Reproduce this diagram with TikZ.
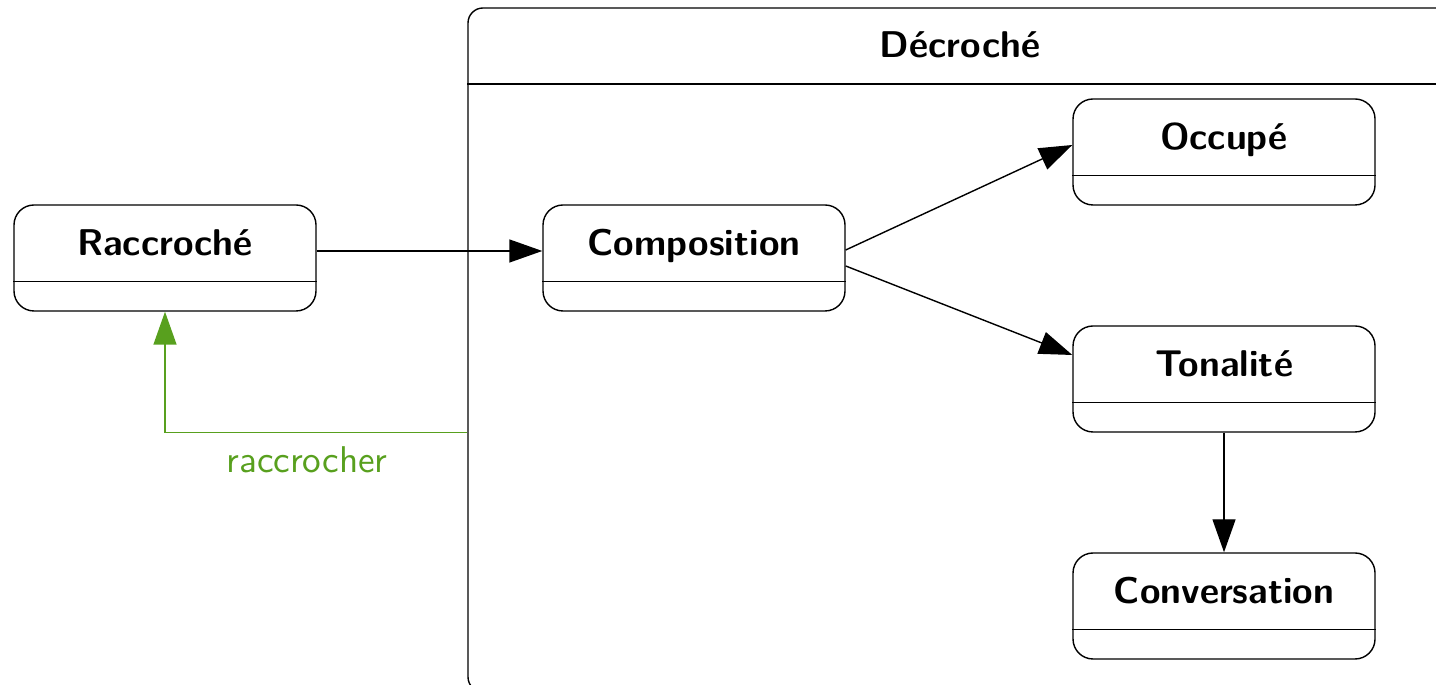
\documentclass[tikz,border=0pt]{standalone}
\usetikzlibrary{arrows.meta}

\definecolor{transgreen}{RGB}{88,160,30}

\tikzset{
	statebox/.style={draw, rounded corners=0.2cm, minimum width=3.02cm, minimum height=1.06cm, inner sep=0pt},
	statename/.style={font=\sffamily\bfseries\fontsize{10.6}{12}\selectfont, anchor=base},
	trans/.style={-{Triangle[length=0.33cm,width=0.23cm]}},
}

% etat : nom, position, texte
\newcommand{\drawstate}[3]{
	\node[statebox] (#1) at (#2) {};
	\node[statename] (#1-name) at ([yshift=0.02cm]#1.center) {#3};
	\draw ([yshift=0.3cm]#1.south west) -- ([yshift=0.3cm]#1.south east);
}

\begin{document}
\begin{tikzpicture}
	\useasboundingbox (0,0) rectangle (14.36,6.85);

	% etat composite
	\begin{scope}
		\clip (0,0) rectangle (14.36,6.85);
		\node[draw, rounded corners=0.15cm, minimum width=9.84cm, minimum height=6.84cm, inner sep=0pt] (decroche) at (9.60,3.35) {};
		\draw (decroche.west |- 0,6.01) -- (decroche.east |- 0,6.01);
	\end{scope}
	\node[statename] (decroche-name) at (9.60,6.27) {Décroché};

	\drawstate{racc}{1.65,4.27}{Raccroché}
	\drawstate{comp}{6.94,4.27}{Composition}
	\drawstate{occ}{12.24,5.33}{Occupé}
	\drawstate{ton}{12.24,3.06}{Tonalité}
	\drawstate{conv}{12.24,0.79}{Conversation}

	\draw[trans] ([yshift=0.07cm]racc.east) -- ([yshift=0.07cm]comp.west);
	\draw[trans] ([yshift=0.08cm]comp.east) -- ([yshift=0.07cm]occ.west);
	\draw[trans] ([yshift=-0.08cm]comp.east) -- ([yshift=0.24cm]ton.west);
	\draw[trans] (ton.south) -- (conv.north);

	\coordinate (hang) at (decroche.west |- ton.south);
	\draw[trans, transgreen] (hang) -| (racc.south);
	\node[font=\sffamily\fontsize{10.6}{12}\selectfont, text=transgreen] (hang-label) at (3.07,2.25) {raccrocher};
\end{tikzpicture}
\end{document}
